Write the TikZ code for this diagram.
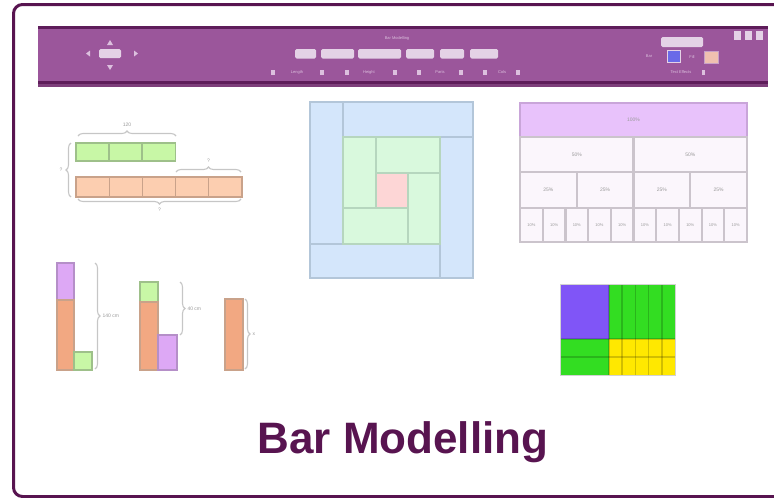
\documentclass[tikz,border=0pt]{standalone}
\usepackage{fontspec}
\setmainfont{Liberation Sans}
\usetikzlibrary{decorations.pathreplacing}
\definecolor{frame}{HTML}{581450}
\definecolor{tbar}{HTML}{9B569B}
\definecolor{tbdark}{HTML}{5E1D5A}
\definecolor{tbshade}{HTML}{7E3F7B}
\definecolor{tblight}{HTML}{E4D2E6}
\definecolor{tbtext}{HTML}{DCC0DE}
\definecolor{tbblue}{HTML}{6A6AE8}
\definecolor{tbpeach}{HTML}{F0C0B0}
\definecolor{barg}{HTML}{C8F7A6}
\definecolor{bargd}{HTML}{9EC08A}
\definecolor{baro}{HTML}{FCCEB0}
\definecolor{barod}{HTML}{C9A28A}
\definecolor{barp}{HTML}{DDA8F5}
\definecolor{barpd}{HTML}{B58FC8}
\definecolor{vbo}{HTML}{F2A882}
\definecolor{sqb}{HTML}{D4E6FB}
\definecolor{sqbd}{HTML}{B3C6D9}
\definecolor{sqg}{HTML}{D9F9DD}
\definecolor{sqgd}{HTML}{B6D6BE}
\definecolor{sqr}{HTML}{FDD6D6}
\definecolor{pct}{HTML}{E8C2FB}
\definecolor{pctd}{HTML}{C9A5D9}
\definecolor{pcl}{HTML}{FBF6FC}
\definecolor{pcld}{HTML}{CBC4CC}
\definecolor{arp}{HTML}{8055F7}
\definecolor{arg}{HTML}{33DD22}
\definecolor{ary}{HTML}{FFE800}
\definecolor{lbl}{HTML}{9A9A9A}
\tikzset{
  bracestyle/.style={decorate,decoration={brace,amplitude=5pt},draw=gray!45,line width=1.1pt},
  lab/.style={font=\fontsize{5}{6}\selectfont,text=lbl,inner sep=0pt},
  tbtxt/.style={font=\fontsize{4}{5}\selectfont,text=tbtext,inner sep=0pt},
  tbbtn/.style={fill=tblight,rounded corners=1.5pt},
  tbtri/.style={fill=tbtext},
  gcell/.style={fill=barg,draw=bargd,line width=1.2pt},
  ocell/.style={fill=baro,draw=barod,line width=1.2pt},
  bcell/.style={fill=sqb,draw=sqbd,line width=2.4pt},
  grcell/.style={fill=sqg,draw=sqgd,line width=2.4pt},
  pcell/.style={fill=pcl,draw=pcld,line width=2.2pt},
  agrid/.style={draw=black,draw opacity=0.18,line width=1.6pt}
}
\begin{document}
\begin{tikzpicture}[x=1pt,y=-1pt]
\useasboundingbox (0,0) rectangle (774,498);
% outer frame
\draw[frame,line width=3pt,rounded corners=9pt] (13.5,4.5) rectangle (800,496.5);

% ---------------- toolbar ----------------
\fill[tbshade] (38,84) rectangle (768,87);
\fill[tbar] (38,26) rectangle (768,84);
\fill[tbdark] (38,26) rectangle (768,28.5);
\fill[tbdark] (38,80.5) rectangle (768,84);
% d-pad
\fill[tbbtn] (99,49) rectangle (121,58);
\fill[tbtri] (110,40) -- (113,45) -- (107,45) -- cycle;
\fill[tbtri] (110,70) -- (113,65) -- (107,65) -- cycle;
\fill[tbtri] (86,53.5) -- (90,50.5) -- (90,56.5) -- cycle;
\fill[tbtri] (138,53.5) -- (134,50.5) -- (134,56.5) -- cycle;
% title and buttons
\node[tbtxt] (tbtitle) at (397,38) {Bar Modelling};
\foreach \a/\b in {295/316,321/354,358/401,406/434,440/464,470/498}{
  \fill[tbbtn] (\a,49) rectangle (\b,58.5);
}
% lower row
\foreach \p in {273,322,347,395,419,461,485,518}{
  \fill[tbtri] (\p-2,70) rectangle (\p+2,74.5);
}
\node[tbtxt] (tbl1) at (297,72) {Length};
\node[tbtxt] (tbl2) at (369,72) {Height};
\node[tbtxt] (tbl3) at (440,72) {Parts};
\node[tbtxt] (tbl4) at (502,72) {Cols};
% right controls
\fill[tbbtn] (661,37) rectangle (703,47);
\node[tbtxt] (tbbar) at (649,56.5) {Bar};
\draw[fill=tbblue,draw=tblight,line width=1pt] (667,50.5) rectangle (680.5,62);
\node[tbtxt] (tbfill) at (692,57) {Fill};
\draw[fill=tbpeach,draw=tblight!60!tbar,line width=0.8pt] (704,51) rectangle (718,63);
\node[tbtxt] (tbeff) at (681,72.5) {Text Effects};
\fill[tbtri] (701.5,70) rectangle (705,75);
% top-right icons
\foreach \p in {737,748,759}{
  \fill[tblight] (\p-3.5,31) rectangle (\p+3.5,40);
}

% ---------------- panel 1: horizontal bars ----------------
\foreach \a in {76,109,142}{
  \draw[gcell] (\a,143) rectangle (\a+33.3,161);
}
\foreach \a in {76,109.2,142.4,175.6,208.8}{
  \draw[ocell] (\a,177) rectangle (\a+33.2,197);
}
\draw[bracestyle] (78,136) -- (176,136) node[lab,midway,above=9pt] (l1a) {120};
\draw[bracestyle] (176,172) -- (241,172) node[lab,midway,above=9pt] (l1b) {?};
\draw[bracestyle] (71,197) -- (71,143) node[lab,midway,left=8pt] (l1c) {?};
\draw[bracestyle] (241,199) -- (78,199) node[lab,midway,below=8pt] (l1d) {?};

% ---------------- panel 2: square spiral ----------------
\draw[bcell] (310,102) rectangle (343,244);
\draw[bcell] (343,102) rectangle (473,137);
\draw[bcell] (440,137) rectangle (473,278);
\draw[bcell] (310,244) rectangle (440,278);
\draw[grcell] (343,137) rectangle (376,208);
\draw[grcell] (376,137) rectangle (440,173);
\draw[grcell] (408,173) rectangle (440,244);
\draw[grcell] (343,208) rectangle (408,244);
\draw[fill=sqr,draw=sqgd,line width=2.4pt] (376,173) rectangle (408,208);

% ---------------- panel 3: percentages ----------------
\draw[fill=pct,draw=pctd,line width=2.2pt] (520,103) rectangle (747,137);
\node[lab] (p100) at (633.5,120) {100\%};
\foreach \i in {0,1}{
  \draw[pcell] (520+113.5*\i,137) rectangle (633.5+113.5*\i,172);
  \node[lab] (p50\i) at (576.75+113.5*\i,155) {50\%};
}
\foreach \i in {0,1,2,3}{
  \draw[pcell] (520+56.75*\i,172) rectangle (576.75+56.75*\i,208);
  \node[lab] (p25\i) at (548.4+56.75*\i,190) {25\%};
}
\foreach \i in {0,...,9}{
  \draw[pcell] (520+22.7*\i,208) rectangle (542.7+22.7*\i,242);
  \node[lab,font=\fontsize{4}{5}\selectfont] (p10\i) at (531.35+22.7*\i,225) {10\%};
}

% ---------------- panel 4: vertical bars ----------------
\draw[fill=barp,draw=barpd,line width=1.2pt] (57,263) rectangle (74,300);
\draw[fill=vbo,draw=barod,line width=1.2pt] (57,300) rectangle (74,370);
\draw[gcell] (74,352) rectangle (92,370);
\draw[bracestyle] (95,263) -- (95,369) node[lab,midway,right=7pt] (l4a) {140 cm};
\draw[fill=barg,draw=bargd,line width=1.2pt] (140,282) rectangle (158,302);
\draw[fill=vbo,draw=barod,line width=1.2pt] (140,302) rectangle (158,370);
\draw[fill=barp,draw=barpd,line width=1.2pt] (158,335) rectangle (177,370);
\draw[bracestyle] (180,282) -- (180,335) node[lab,midway,right=7pt] (l4b) {40 cm};
\draw[fill=vbo,draw=barod,line width=1.2pt] (225,299) rectangle (243,370);
\draw[bracestyle] (245,299) -- (245,369) node[lab,midway,right=7pt] (l4c) {x};

% ---------------- panel 5: area model ----------------
\fill[arp] (560,284) rectangle (609,339);
\fill[arg] (609,284) rectangle (675,339);
\fill[arg] (560,339) rectangle (609,375);
\fill[ary] (609,339) rectangle (675,375);
\foreach \i in {1,...,4}{
  \draw[agrid] (609+13.2*\i,284) -- (609+13.2*\i,375);
}
\draw[agrid] (609,284) -- (609,375);
\draw[agrid] (560,339) -- (675,339);
\draw[agrid] (560,357) -- (675,357);
\draw[draw=gray!35,line width=1pt] (560,284) rectangle (675,375);

% ---------------- title ----------------
\node[font=\bfseries\fontsize{44}{50}\selectfont,text=frame,anchor=base,inner sep=0pt] (title) at (403,453) {Bar Modelling};
\end{tikzpicture}
\end{document}
